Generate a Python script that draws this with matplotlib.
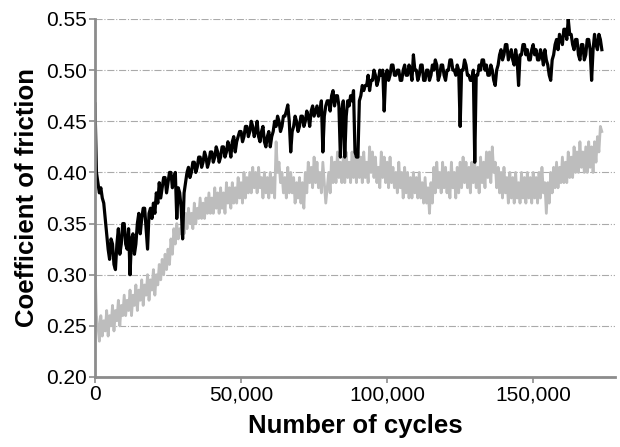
import numpy as np
import matplotlib
matplotlib.use("Agg")
import matplotlib.pyplot as plt
from matplotlib.ticker import FuncFormatter

plt.rcParams['font.family'] = ['Liberation Sans', 'DejaVu Sans']

# 采样点：每 500 次循环一个读数
cycles = np.arange(0, 174000, 500)

# 黑线（读图估计，每行 = 10,000 次循环）
cof_black = [
    0.467, 0.40, 0.39, 0.38, 0.385, 0.375, 0.37, 0.355, 0.34, 0.325, 0.315, 0.335, 0.33, 0.31, 0.305, 0.33, 0.345, 0.32, 0.33, 0.35,
    0.35, 0.33, 0.325, 0.345, 0.30, 0.335, 0.34, 0.32, 0.33, 0.35, 0.36, 0.34, 0.355, 0.365, 0.365, 0.345, 0.325, 0.36, 0.365, 0.355,
    0.37, 0.36, 0.38, 0.37, 0.39, 0.375, 0.385, 0.395, 0.395, 0.38, 0.39, 0.40, 0.40, 0.385, 0.395, 0.40, 0.355, 0.385, 0.38, 0.365,
    0.335, 0.38, 0.39, 0.40, 0.405, 0.395, 0.40, 0.41, 0.41, 0.40, 0.405, 0.415, 0.415, 0.405, 0.41, 0.42, 0.415, 0.405, 0.41, 0.42,
    0.42, 0.41, 0.415, 0.425, 0.42, 0.41, 0.415, 0.425, 0.425, 0.415, 0.42, 0.43, 0.425, 0.415, 0.43, 0.435, 0.42, 0.43, 0.435, 0.44,
    0.44, 0.43, 0.435, 0.445, 0.445, 0.435, 0.44, 0.45, 0.445, 0.435, 0.44, 0.45, 0.435, 0.43, 0.44, 0.445, 0.43, 0.425, 0.435, 0.44,
    0.425, 0.435, 0.44, 0.45, 0.445, 0.455, 0.45, 0.44, 0.445, 0.455, 0.455, 0.46, 0.466, 0.45, 0.42, 0.44, 0.445, 0.455, 0.45, 0.44,
    0.445, 0.455, 0.455, 0.445, 0.45, 0.46, 0.455, 0.445, 0.46, 0.465, 0.455, 0.46, 0.465, 0.455, 0.46, 0.47, 0.42, 0.455, 0.465, 0.47,
    0.47, 0.46, 0.475, 0.48, 0.465, 0.475, 0.475, 0.465, 0.415, 0.46, 0.47, 0.415, 0.455, 0.47, 0.465, 0.475, 0.47, 0.48, 0.42, 0.415,
    0.415, 0.47, 0.475, 0.485, 0.48, 0.485, 0.485, 0.495, 0.48, 0.49, 0.49, 0.50, 0.495, 0.485, 0.49, 0.50, 0.495, 0.50, 0.46, 0.495,
    0.50, 0.49, 0.495, 0.505, 0.505, 0.495, 0.495, 0.50, 0.50, 0.49, 0.49, 0.50, 0.505, 0.495, 0.495, 0.505, 0.50, 0.49, 0.515, 0.50,
    0.50, 0.49, 0.495, 0.505, 0.505, 0.49, 0.49, 0.50, 0.50, 0.49, 0.495, 0.505, 0.50, 0.51, 0.505, 0.49, 0.495, 0.505, 0.505, 0.495,
    0.49, 0.50, 0.50, 0.51, 0.51, 0.50, 0.50, 0.495, 0.505, 0.50, 0.445, 0.50, 0.50, 0.51, 0.505, 0.495, 0.495, 0.49, 0.49, 0.50,
    0.41, 0.495, 0.495, 0.505, 0.50, 0.51, 0.51, 0.50, 0.505, 0.495, 0.495, 0.505, 0.50, 0.49, 0.485, 0.50, 0.505, 0.515, 0.52, 0.51,
    0.515, 0.525, 0.525, 0.51, 0.515, 0.52, 0.51, 0.505, 0.52, 0.51, 0.485, 0.515, 0.515, 0.525, 0.525, 0.515, 0.52, 0.51, 0.51, 0.52,
    0.525, 0.515, 0.52, 0.51, 0.51, 0.52, 0.515, 0.505, 0.52, 0.51, 0.505, 0.495, 0.49, 0.51, 0.515, 0.525, 0.53, 0.52, 0.535, 0.53,
    0.525, 0.54, 0.54, 0.53, 0.55, 0.535, 0.535, 0.525, 0.52, 0.53, 0.53, 0.515, 0.51, 0.525, 0.525, 0.51, 0.515, 0.53, 0.53, 0.52,
    0.49, 0.52, 0.535, 0.525, 0.52, 0.535, 0.53, 0.52,
]

# 灰线
cof_gray = [
    0.31, 0.26, 0.25, 0.235, 0.26, 0.24, 0.255, 0.245, 0.265, 0.24, 0.26, 0.25, 0.27, 0.245, 0.265, 0.255, 0.275, 0.25, 0.27, 0.26,
    0.28, 0.26, 0.275, 0.265, 0.285, 0.26, 0.28, 0.27, 0.29, 0.265, 0.285, 0.275, 0.295, 0.27, 0.29, 0.28, 0.30, 0.275, 0.295, 0.285,
    0.305, 0.28, 0.30, 0.29, 0.31, 0.295, 0.315, 0.30, 0.32, 0.305, 0.325, 0.31, 0.335, 0.32, 0.345, 0.33, 0.35, 0.335, 0.345, 0.34,
    0.355, 0.34, 0.36, 0.345, 0.365, 0.35, 0.36, 0.345, 0.37, 0.35, 0.365, 0.355, 0.375, 0.355, 0.37, 0.355, 0.375, 0.36, 0.38, 0.36,
    0.375, 0.36, 0.385, 0.365, 0.38, 0.36, 0.385, 0.365, 0.38, 0.36, 0.39, 0.37, 0.385, 0.365, 0.39, 0.37, 0.385, 0.37, 0.395, 0.375,
    0.39, 0.37, 0.40, 0.375, 0.395, 0.38, 0.40, 0.38, 0.405, 0.385, 0.40, 0.38, 0.405, 0.385, 0.395, 0.375, 0.40, 0.38, 0.395, 0.375,
    0.40, 0.38, 0.395, 0.375, 0.43, 0.40, 0.41, 0.39, 0.40, 0.38, 0.395, 0.375, 0.405, 0.38, 0.40, 0.38, 0.395, 0.37, 0.39, 0.375,
    0.395, 0.37, 0.39, 0.365, 0.40, 0.38, 0.41, 0.39, 0.405, 0.385, 0.415, 0.39, 0.41, 0.385, 0.40, 0.38, 0.41, 0.39, 0.37, 0.385,
    0.40, 0.38, 0.415, 0.39, 0.41, 0.39, 0.42, 0.395, 0.41, 0.39, 0.415, 0.39, 0.42, 0.395, 0.41, 0.39, 0.42, 0.395, 0.415, 0.39,
    0.42, 0.395, 0.415, 0.39, 0.42, 0.395, 0.41, 0.39, 0.425, 0.40, 0.42, 0.395, 0.415, 0.39, 0.405, 0.385, 0.42, 0.395, 0.415, 0.39,
    0.41, 0.385, 0.415, 0.39, 0.405, 0.385, 0.40, 0.38, 0.41, 0.385, 0.40, 0.375, 0.405, 0.38, 0.40, 0.375, 0.395, 0.375, 0.40, 0.38,
    0.395, 0.375, 0.40, 0.375, 0.39, 0.37, 0.395, 0.37, 0.385, 0.36, 0.39, 0.37, 0.405, 0.38, 0.41, 0.385, 0.40, 0.38, 0.41, 0.385,
    0.405, 0.38, 0.40, 0.375, 0.41, 0.385, 0.40, 0.375, 0.405, 0.38, 0.41, 0.385, 0.415, 0.39, 0.41, 0.385, 0.405, 0.38, 0.41, 0.39,
    0.41, 0.385, 0.405, 0.38, 0.415, 0.39, 0.41, 0.385, 0.42, 0.395, 0.42, 0.39, 0.425, 0.40, 0.41, 0.385, 0.405, 0.38, 0.40, 0.375,
    0.405, 0.38, 0.395, 0.37, 0.40, 0.375, 0.395, 0.37, 0.40, 0.375, 0.39, 0.37, 0.40, 0.375, 0.395, 0.37, 0.40, 0.375, 0.395, 0.37,
    0.40, 0.375, 0.395, 0.37, 0.40, 0.375, 0.405, 0.38, 0.39, 0.36, 0.39, 0.37, 0.40, 0.38, 0.405, 0.385, 0.41, 0.385, 0.405, 0.39,
    0.415, 0.39, 0.41, 0.39, 0.42, 0.395, 0.415, 0.395, 0.425, 0.40, 0.42, 0.40, 0.43, 0.405, 0.42, 0.40, 0.425, 0.40, 0.43, 0.405,
    0.425, 0.40, 0.43, 0.41, 0.435, 0.42, 0.445, 0.44,
]

fig = plt.figure(figsize=(6.2, 4.47), dpi=100)
ax = fig.add_axes([0.1532, 0.1566, 0.8387, 0.8009])

ax.plot(cycles, cof_gray, color="#bdbdbd", linewidth=2.0)
ax.plot(cycles, cof_black, color="black", linewidth=2.3)

ax.set_xlim(0, 178000)
ax.set_ylim(0.20, 0.55)
ax.set_xticks([0, 50000, 100000, 150000])
ax.set_yticks(np.arange(0.20, 0.551, 0.05))
ax.xaxis.set_major_formatter(FuncFormatter(lambda v, p: f"{int(v):,}"))
ax.yaxis.set_major_formatter(FuncFormatter(lambda v, p: f"{v:.2f}"))

ax.grid(axis="y", color="#aaaaaa", linestyle="-.", linewidth=0.8)
ax.set_axisbelow(True)
for s in ["top", "right"]:
    ax.spines[s].set_visible(False)
for s in ["left", "bottom"]:
    ax.spines[s].set_color("#8c8c8c")
    ax.spines[s].set_linewidth(2)
ax.tick_params(axis="both", colors="#8c8c8c", labelcolor="black",
               labelsize=15, length=4, width=1.2, pad=2)

ax.set_xlabel("Number of cycles", fontsize=18.5, fontweight="bold", labelpad=7)
ax.set_ylabel("Coefficient of friction", fontsize=18.5, fontweight="bold", labelpad=5)

fig.savefig("out.png", dpi=100)
